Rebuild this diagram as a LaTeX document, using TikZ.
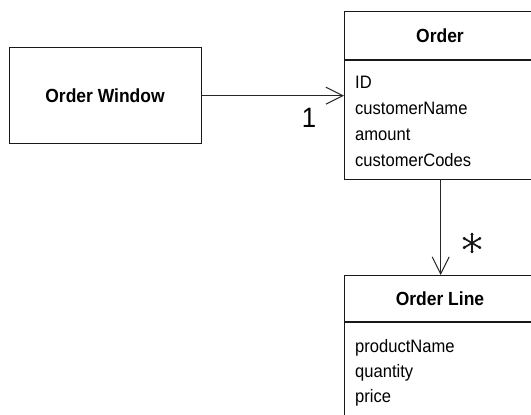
\documentclass[tikz,border=0pt]{standalone}
\usepackage{fontspec}
\setmainfont{Liberation Sans}[FakeStretch=0.92]
\usetikzlibrary{arrows.meta}
\begin{document}
\begin{tikzpicture}[x=1pt,y=-1pt,
  box/.style={draw=black!90,line width=1.3pt,anchor=north west,inner sep=0pt},
  hdr/.style={font=\fontsize{19}{22}\selectfont\bfseries,anchor=base,inner sep=0pt},
  attr/.style={font=\fontsize{18}{25}\selectfont,anchor=base west,inner sep=0pt,align=left},
  conn/.style={draw=black!85,line width=1pt,-{Straight Barb[length=17pt,width=17pt,line width=1pt]}},
  mult/.style={inner sep=0pt},
  spoke/.style={line width=1.7pt,line cap=round,black!90},
  tip/.style={fill=black!90}]
\useasboundingbox (0,0) rectangle (531,415);
\fill[white] (0,0) rectangle (531,415);
\clip (0,0) rectangle (531,415);
% Order Window
\node[box,minimum width=192pt,minimum height=96pt] (ow) at (9,47) {};
\node[hdr] (owt) at (105,102) {Order Window};
% Order
\node[box,minimum width=192pt,minimum height=168pt] (order) at (344,11) {};
\coordinate (oh1) at (344,60);
\coordinate (oh2) at (536,60);
\draw[line width=1.3pt,black!90] (oh1) -- (oh2);
\node[hdr] (ordert) at (440,42.5) {Order};
\node[attr] (oa1) at (355,88) {ID};
\node[attr] (oa2) at (355,114) {customerName};
\node[attr] (oa3) at (355,140) {amount};
\node[attr] (oa4) at (355,166) {customerCodes};
% Order Line
\node[box,minimum width=192pt,minimum height=180pt] (ol) at (344,275) {};
\coordinate (lh1) at (344,322);
\coordinate (lh2) at (536,322);
\draw[line width=1.3pt,black!90] (lh1) -- (lh2);
\node[hdr] (olt) at (440,305) {Order Line};
\node[attr] (la1) at (355,352) {productName};
\node[attr] (la2) at (355,377) {quantity};
\node[attr] (la3) at (355,402) {price};
% connectors
\draw[conn] (ow.east) -- (order.west);
\draw[conn] (order.south) -- (ol.north);
\node[mult,font=\fontsize{28}{30}\selectfont] (m1) at (309,118) {1};
% multiplicity star
\coordinate (m2) at (472,243);
\draw[spoke] ([shift={(0,-9.5)}]m2) -- ([shift={(0,9.5)}]m2);
\draw[spoke] ([shift={(-8.5,-5)}]m2) -- ([shift={(8.5,5)}]m2);
\draw[spoke] ([shift={(-8.5,5)}]m2) -- ([shift={(8.5,-5)}]m2);
\foreach \dx/\dy in {0/-8.5,0/8.5,-7.6/-4.4,7.6/4.4,-7.6/4.4,7.6/-4.4}
  \fill[tip] ([shift={(\dx,\dy)}]m2) circle (1.7pt);
\end{tikzpicture}
\end{document}
